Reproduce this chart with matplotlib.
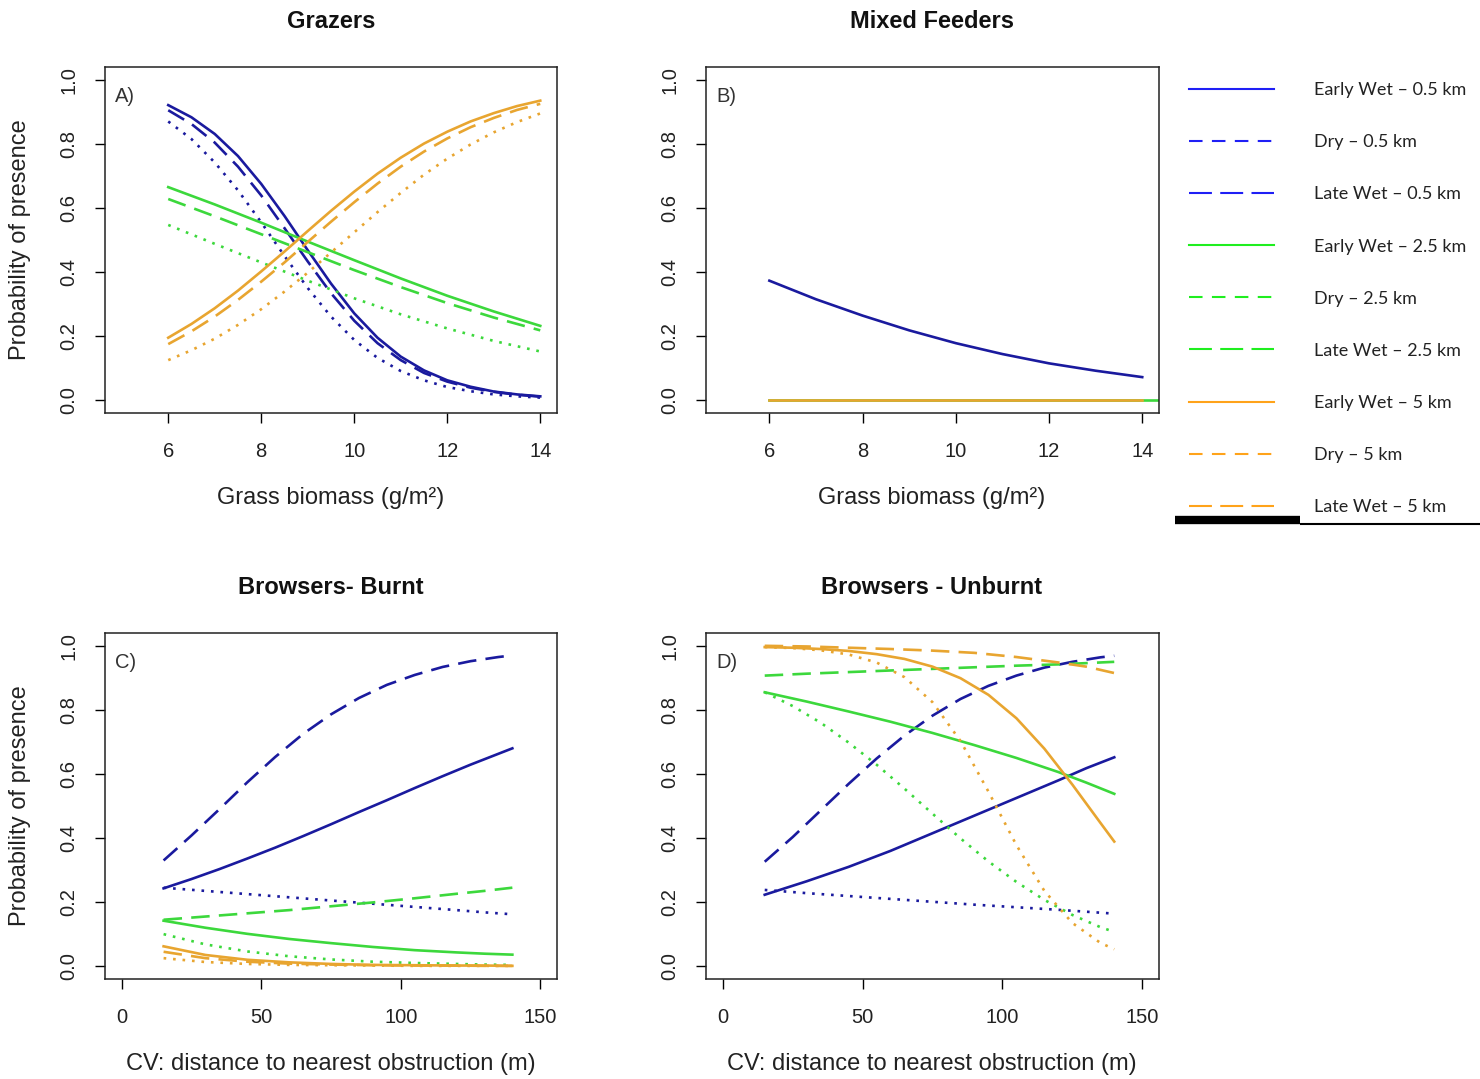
import matplotlib.pyplot as plt
from matplotlib.lines import Line2D

# x values
grass_x = [6, 7, 8, 9, 10, 11, 12, 13, 14]
grass_x_fine = [6, 6.5, 7, 7.5, 8, 8.5, 9, 9.5, 10, 10.5, 11, 11.5, 12, 12.5, 13, 13.5, 14]
cv_x = [15, 30, 45, 60, 75, 90, 105, 120, 130, 140]
cv_x_fine = [15, 25, 35, 45, 55, 65, 75, 85, 95, 105, 115, 125, 135, 140]

# A) Grazers (blue/orange on the fine grid, greens on the coarse one)
graz_ew_05 = [0.921, 0.883, 0.831, 0.762, 0.675, 0.575, 0.468, 0.364, 0.271,
              0.195, 0.136, 0.093, 0.062, 0.042, 0.027, 0.018, 0.012]
graz_lw_05 = [0.905, 0.862, 0.804, 0.729, 0.639, 0.537, 0.433, 0.334, 0.248,
              0.178, 0.125, 0.085, 0.058, 0.039, 0.026, 0.017, 0.011]
graz_dry_05 = [0.87, 0.815, 0.742, 0.655, 0.555, 0.45, 0.35, 0.261, 0.188,
               0.132, 0.091, 0.062, 0.041, 0.028, 0.018, 0.012, 0.008]
graz_ew_5 = [0.195, 0.238, 0.287, 0.342, 0.402, 0.464, 0.528, 0.591, 0.651,
             0.707, 0.757, 0.801, 0.838, 0.87, 0.896, 0.918, 0.935]
graz_lw_5 = [0.175, 0.215, 0.261, 0.313, 0.37, 0.43, 0.494, 0.557, 0.618,
             0.676, 0.729, 0.776, 0.817, 0.852, 0.881, 0.906, 0.925]
graz_dry_5 = [0.125, 0.156, 0.192, 0.235, 0.284, 0.339, 0.398, 0.461, 0.524,
              0.587, 0.647, 0.704, 0.754, 0.798, 0.836, 0.868, 0.895]
graz_ew_25 = [0.665, 0.611, 0.554, 0.495, 0.437, 0.38, 0.326, 0.277, 0.232]
graz_dry_25 = [0.547, 0.488, 0.43, 0.373, 0.318, 0.268, 0.224, 0.185, 0.152]
graz_lw_25 = [0.628, 0.574, 0.518, 0.462, 0.406, 0.353, 0.303, 0.258, 0.218]

# B) Mixed feeders
mixed_ew_05 = [0.373, 0.315, 0.264, 0.218, 0.178, 0.144, 0.115, 0.092, 0.072]
mixed_green_x = [6, 15]
mixed_green = [0.0, 0.0]
mixed_ew_5 = [0, 0, 0, 0, 0, 0, 0, 0, 0]

# C) Browsers - burnt
burnt_lw_05 = [0.33, 0.408, 0.49, 0.574, 0.653, 0.725, 0.786, 0.837, 0.878,
               0.909, 0.934, 0.952, 0.965, 0.97]
burnt_ew_05 = [0.243, 0.272, 0.303, 0.336, 0.37, 0.406, 0.443, 0.481, 0.518,
               0.556, 0.593, 0.629, 0.663, 0.68]
burnt_dry_05 = [0.245, 0.235, 0.225, 0.215, 0.205, 0.195, 0.185, 0.175, 0.168, 0.162]
burnt_ew_25 = [0.142, 0.12, 0.101, 0.085, 0.072, 0.06, 0.05, 0.043, 0.039, 0.036]
burnt_dry_25 = [0.10, 0.068, 0.046, 0.031, 0.021, 0.014, 0.01, 0.007, 0.005, 0.004]
burnt_lw_25 = [0.145, 0.155, 0.165, 0.175, 0.187, 0.199, 0.212, 0.226, 0.235, 0.245]
burnt_ew_5 = [0.062, 0.035, 0.02, 0.012, 0.007, 0.004, 0.003, 0.002, 0.002, 0.001]
burnt_dry_5 = [0.025, 0.013, 0.007, 0.004, 0.003, 0.002, 0.001, 0.001, 0.001, 0.001]
burnt_lw_5 = [0.045, 0.025, 0.014, 0.008, 0.005, 0.003, 0.002, 0.002, 0.001, 0.001]

# D) Browsers - unburnt (curved ones on the fine grid)
unb_lw_05 = [0.326, 0.403, 0.486, 0.569, 0.648, 0.72, 0.782, 0.834, 0.875,
             0.907, 0.932, 0.95, 0.964, 0.969]
unb_dry_25 = [0.855, 0.812, 0.76, 0.698, 0.629, 0.554, 0.476, 0.399, 0.327,
              0.263, 0.207, 0.16, 0.122, 0.107]
unb_ew_5 = [0.996, 0.994, 0.99, 0.984, 0.974, 0.959, 0.935, 0.899, 0.847,
            0.774, 0.679, 0.567, 0.448, 0.389]
unb_dry_5 = [0.996, 0.993, 0.986, 0.973, 0.948, 0.902, 0.824, 0.703, 0.545,
             0.378, 0.235, 0.135, 0.073, 0.053]
unb_ew_05 = [0.223, 0.265, 0.31, 0.36, 0.415, 0.47, 0.525, 0.58, 0.618, 0.652]
unb_dry_05 = [0.238, 0.228, 0.219, 0.21, 0.201, 0.192, 0.184, 0.176, 0.17, 0.164]
unb_ew_25 = [0.855, 0.826, 0.795, 0.763, 0.728, 0.69, 0.65, 0.606, 0.573, 0.538]
unb_lw_25 = [0.907, 0.913, 0.918, 0.923, 0.928, 0.933, 0.938, 0.942, 0.946, 0.95]
unb_lw_5 = [1.0, 0.998, 0.994, 0.99, 0.985, 0.978, 0.965, 0.948, 0.935, 0.915]

legend_labels = ["Early Wet \u2013 0.5 km", "Dry \u2013 0.5 km", "Late Wet \u2013 0.5 km",
                 "Early Wet \u2013 2.5 km", "Dry \u2013 2.5 km", "Late Wet \u2013 2.5 km",
                 "Early Wet \u2013 5 km", "Dry \u2013 5 km", "Late Wet \u2013 5 km"]

BLUE, GREEN, ORANGE = '#1a1a9e', '#3cd83c', '#e8a530'
SOLID = '-'
DOT = (0, (1, 2.6))
DASH = (0, (7, 3.5))

FONT = 'Liberation Sans'
TICKFONT = ['Liberation Sans Narrow', 'Liberation Sans']

fig = plt.figure(figsize=(14.8, 10.79), dpi=100)
W, H = 1480, 1079


def make_ax(left, top, right, bottom):
    return fig.add_axes([left / W, 1 - bottom / H, (right - left) / W, (bottom - top) / H])


def style_ax(ax, xlim, xticks, letter):
    pad = (xlim[1] - xlim[0]) * 0.04
    ax.set_xlim(xlim[0] - pad, xlim[1] + pad)
    ax.set_ylim(-0.04, 1.04)
    ax.set_xticks(xticks)
    ax.set_yticks([0, 0.2, 0.4, 0.6, 0.8, 1.0])
    ax.set_yticklabels(['0.0', '0.2', '0.4', '0.6', '0.8', '1.0'], rotation=90, va='center')
    ax.tick_params(length=7, width=1, color='black', labelsize=14.5)
    ax.tick_params(axis='x', pad=14)
    ax.tick_params(axis='y', pad=12)
    for lab in ax.get_xticklabels() + ax.get_yticklabels():
        lab.set_family(TICKFONT)
        lab.set_color('#222222')
    for sp in ax.spines.values():
        sp.set_linewidth(1.1)
        sp.set_color('#222222')
    ax.text(0.022, 0.915, letter, transform=ax.transAxes, fontsize=14.5,
            family=FONT, color='#333333', va='center')


def draw(ax, x, series):
    for y, color, ls in series:
        ax.plot(x, y, color=color, linestyle=ls, linewidth=1.9)


axA = make_ax(105, 67, 557, 413)
axB = make_ax(706, 67, 1159, 413)
axC = make_ax(105, 633, 557, 979)
axD = make_ax(706, 633, 1159, 979)

draw(axA, grass_x_fine, [(graz_ew_05, BLUE, SOLID), (graz_lw_05, BLUE, DASH),
                         (graz_dry_05, BLUE, DOT)])
draw(axA, grass_x, [(graz_ew_25, GREEN, SOLID), (graz_lw_25, GREEN, DASH),
                    (graz_dry_25, GREEN, DOT)])
draw(axA, grass_x_fine, [(graz_ew_5, ORANGE, SOLID), (graz_lw_5, ORANGE, DASH),
                         (graz_dry_5, ORANGE, DOT)])

draw(axB, grass_x, [(mixed_ew_05, BLUE, SOLID)])
draw(axB, mixed_green_x, [(mixed_green, GREEN, SOLID)])
draw(axB, grass_x, [(mixed_ew_5, ORANGE, SOLID)])

draw(axC, cv_x_fine, [(burnt_ew_05, BLUE, SOLID), (burnt_lw_05, BLUE, DASH)])
draw(axC, cv_x, [
    (burnt_dry_05, BLUE, DOT),
    (burnt_ew_25, GREEN, SOLID), (burnt_lw_25, GREEN, DASH), (burnt_dry_25, GREEN, DOT),
    (burnt_ew_5, ORANGE, SOLID), (burnt_lw_5, ORANGE, DASH), (burnt_dry_5, ORANGE, DOT),
])

draw(axD, cv_x, [(unb_ew_05, BLUE, SOLID), (unb_dry_05, BLUE, DOT)])
draw(axD, cv_x_fine, [(unb_lw_05, BLUE, DASH)])
draw(axD, cv_x, [(unb_ew_25, GREEN, SOLID), (unb_lw_25, GREEN, DASH)])
draw(axD, cv_x_fine, [(unb_dry_25, GREEN, DOT), (unb_ew_5, ORANGE, SOLID)])
draw(axD, cv_x, [(unb_lw_5, ORANGE, DASH)])
draw(axD, cv_x_fine, [(unb_dry_5, ORANGE, DOT)])

style_ax(axA, (5, 14), [6, 8, 10, 12, 14], 'A)')
style_ax(axB, (5, 14), [6, 8, 10, 12, 14], 'B)')
style_ax(axC, (0, 150), [0, 50, 100, 150], 'C)')
style_ax(axD, (0, 150), [0, 50, 100, 150], 'D)')

# titles and axis labels
title_kw = dict(fontsize=17, fontweight='bold', family=FONT, ha='center', va='center', color='#111111')
fig.text(331 / W, 1 - 21 / H, 'Grazers', **title_kw)
fig.text(932 / W, 1 - 21 / H, 'Mixed Feeders', **title_kw)
fig.text(331 / W, 1 - 587 / H, 'Browsers- Burnt', **title_kw)
fig.text(932 / W, 1 - 587 / H, 'Browsers - Unburnt', **title_kw)

lab_kw = dict(fontsize=17, family=FONT, ha='center', va='center', color='#222222')
fig.text(331 / W, 1 - 498 / H, 'Grass biomass (g/m\u00b2)', **lab_kw)
fig.text(932 / W, 1 - 498 / H, 'Grass biomass (g/m\u00b2)', **lab_kw)
fig.text(331 / W, 1 - 1064 / H, 'CV: distance to nearest obstruction (m)', **lab_kw)
fig.text(932 / W, 1 - 1064 / H, 'CV: distance to nearest obstruction (m)', **lab_kw)
fig.text(20 / W, 1 - 240 / H, 'Probability of presence', rotation=90, **lab_kw)
fig.text(20 / W, 1 - 806 / H, 'Probability of presence', rotation=90, **lab_kw)

# legend panel
LBLUE, LGREEN, LORANGE = '#1f1ff5', '#1fee1f', '#ffa31a'
LDRY = (0, (6.5, 4.5))
LLATE = (0, (11, 4))
handles = []
for c in [LBLUE, LGREEN, LORANGE]:
    for ls in [SOLID, LDRY, LLATE]:
        handles.append(Line2D([], [], color=c, linestyle=ls, linewidth=1.5))
fig.legend(handles, legend_labels, loc='upper left', bbox_to_anchor=(1173 / W, 1 - 66 / H),
           frameon=False, handlelength=4.7, handletextpad=2.2, labelspacing=2.0,
           prop={'family': 'Lato', 'size': 13}, labelcolor='#222222')

fig.add_artist(Line2D([1175 / W, 1300 / W], [1 - 520 / H, 1 - 520 / H], color='black',
                      linewidth=6, solid_capstyle='butt', transform=fig.transFigure))
fig.add_artist(Line2D([1300 / W, 1480 / W], [1 - 523.5 / H, 1 - 523.5 / H], color='black',
                      linewidth=1.5, solid_capstyle='butt', transform=fig.transFigure))

fig.savefig('out.png', dpi=100)
